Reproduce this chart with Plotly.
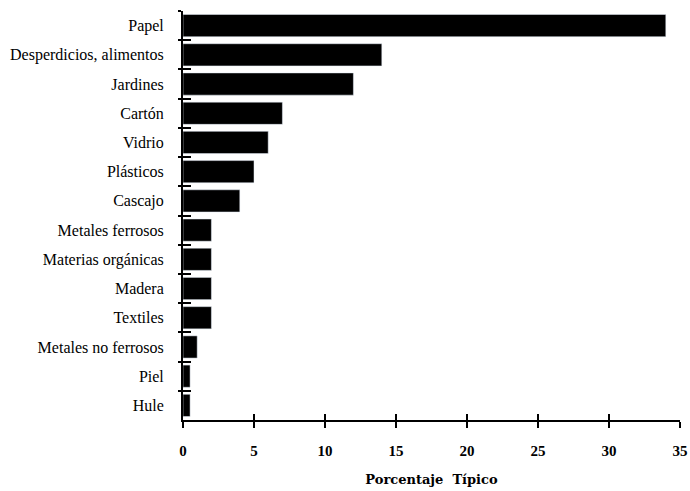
import plotly.graph_objects as go

categories = ["Papel", "Desperdicios, alimentos", "Jardines", "Cartón", "Vidrio",
              "Plásticos", "Cascajo", "Metales ferrosos", "Materias orgánicas",
              "Madera", "Textiles", "Metales no ferrosos", "Piel", "Hule"]
values = [34, 14, 12, 7, 6, 5, 4, 2, 2, 2, 2, 1, 0.5, 0.5]
x_ticks = [0, 5, 10, 15, 20, 25, 30, 35]
x_title = "Porcentaje  Típico"

fig = go.Figure()
fig.add_trace(go.Bar(y=categories, x=values, orientation="h",
                     marker=dict(color="black", line=dict(width=0)),
                     hoverinfo="skip", showlegend=False))
# invisible copy on overlaid axes to draw crossing ticks
fig.add_trace(go.Bar(y=categories, x=values, orientation="h", xaxis="x2", yaxis="y2",
                     marker=dict(color="rgba(0,0,0,0)"), hoverinfo="skip", showlegend=False))

serif = "Liberation Serif"
fig.update_layout(
    width=690, height=491,
    margin=dict(l=183, r=10, t=11, b=71, autoexpand=False),
    paper_bgcolor="white", plot_bgcolor="white",
    bargap=0.24,
    font=dict(family=serif, color="black"),
    xaxis=dict(range=[0, 35], tickvals=x_ticks, ticktext=[str(v) for v in x_ticks],
               automargin=False,
               showgrid=False, zeroline=False, showline=True, linecolor="black", linewidth=2,
               ticks="outside", ticklen=6, tickwidth=2, tickcolor="black",
               tickfont=dict(family=serif, size=15, color="black", weight="bold"),
               ticklabelstandoff=10,
               title=dict(text=x_title, font=dict(family="DejaVu Serif", size=13, weight="bold"),
                          standoff=17)),
    xaxis2=dict(range=[0, 35], tickvals=x_ticks, overlaying="x", side="bottom", anchor="y",
                automargin=False,
                showgrid=False, zeroline=False, showline=False, showticklabels=False,
                ticks="inside", ticklen=6, tickwidth=2, tickcolor="black"),
    yaxis=dict(categoryorder="array", categoryarray=categories, range=[13.5, -0.5],
               automargin=False,
               showgrid=False, zeroline=False, showline=True, linecolor="black", linewidth=2,
               ticks="outside", tickson="boundaries", ticklen=3, tickwidth=2, tickcolor="black",
               tickfont=dict(family=serif, size=16, color="black"),
               ticklabelstandoff=14),
    yaxis2=dict(categoryorder="array", categoryarray=categories, range=[13.5, -0.5],
                overlaying="y", side="left", anchor="x", automargin=False,
                showgrid=False, zeroline=False, showline=False, showticklabels=False,
                ticks="inside", tickson="boundaries", ticklen=8, tickwidth=2, tickcolor="black"),
)

fig.write_html("out.html", config={"displayModeBar": False},
               post_script="document.body.style.margin='0px';")
